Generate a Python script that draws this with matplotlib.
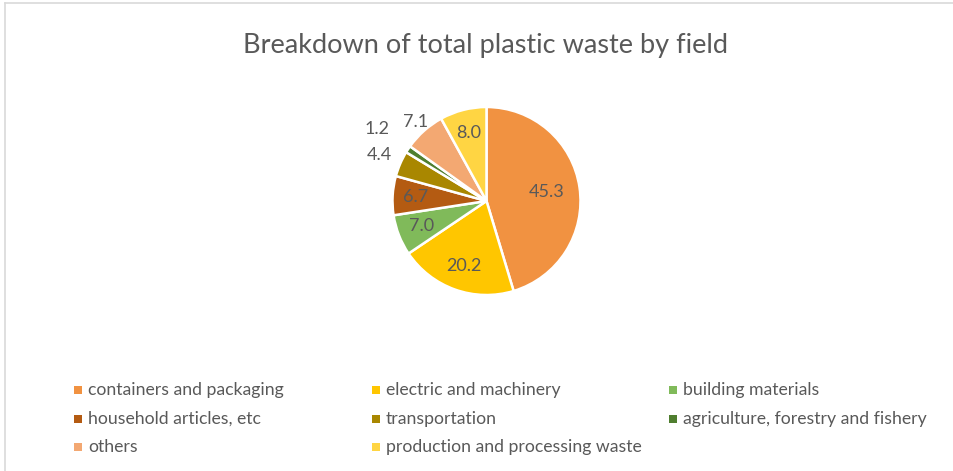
import matplotlib
matplotlib.use("Agg")
import matplotlib.pyplot as plt
from matplotlib.patches import Rectangle
from matplotlib.lines import Line2D
import numpy as np

title = "Breakdown of total plastic waste by field"
categories = ["containers and packaging", "electric and machinery", "building materials",
              "household articles, etc", "transportation", "agriculture, forestry and fishery",
              "others", "production and processing waste"]
values = [45.3, 20.2, 7.0, 6.7, 4.4, 1.2, 7.1, 8.0]
value_labels = ["45.3", "20.2", "7.0", "6.7", "4.4", "1.2", "7.1", "8.0"]

colors = ["#F19241", "#FFC600", "#80BA5A", "#B45B12", "#A98700", "#4F7E2F", "#F3A872", "#FFD543"]
label_dist = [0.65, 0.73, 0.74, 0.76, 1.24, 1.39, 1.13, 0.75]

W, H = 954, 471
plt.rcParams['font.family'] = ['Lato', 'DejaVu Sans']
fig = plt.figure(figsize=(W / 100, H / 100), dpi=100)
ax = fig.add_axes([0, 0, 1, 1])
ax.set_xlim(0, W)
ax.set_ylim(0, H)
ax.axis('off')

cx, cy, R = 486.5, H - 201, 94
wedges, _ = ax.pie(values, colors=colors, startangle=90, counterclock=False,
                   center=(cx, cy), radius=R,
                   wedgeprops=dict(edgecolor='white', linewidth=1.8))
ax.set_xlim(0, W)
ax.set_ylim(0, H)
ax.set_aspect('equal')

txt_col = "#595959"
for w, lab, d in zip(wedges, value_labels, label_dist):
    ang = np.deg2rad((w.theta1 + w.theta2) / 2)
    ax.text(cx + d * R * np.cos(ang), cy + d * R * np.sin(ang), lab,
            ha='center', va='center', fontsize=13, color=txt_col)

ax.text(W / 2 + 9, H - 45, title, ha='center', va='center', fontsize=19.5, color=txt_col)

# border (left and top)
ax.add_line(Line2D([5.5, 5.5], [0, H - 2.5], color="#D9D9D9", lw=1.2))
ax.add_line(Line2D([5.5, W], [H - 2.5, H - 2.5], color="#D9D9D9", lw=1.2))

# legend laid out row-major in 3 columns
col_x = [78, 376, 673]
row_y = [390, 419, 447]
for i, (cat, c) in enumerate(zip(categories, colors)):
    r, k = divmod(i, 3)
    x, y = col_x[k], H - row_y[r]
    ax.add_patch(Rectangle((x - 4, y - 4), 8, 8, facecolor=c, edgecolor='none'))
    ax.text(x + 10, y, cat, ha='left', va='center', fontsize=12.7, color=txt_col)

fig.savefig("out.png", dpi=100)
